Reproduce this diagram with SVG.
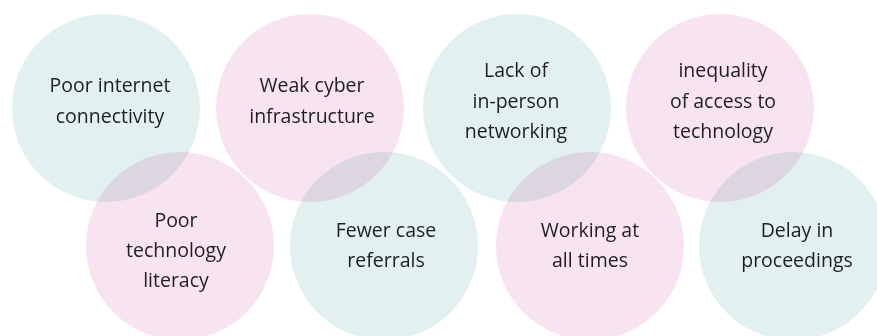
<svg xmlns="http://www.w3.org/2000/svg" width="877" height="336" viewBox="0 0 877 336">
<style>
.c{mix-blend-mode:multiply}
.t{fill:#e3f0f0}
.p{fill:#f8e4f0}
text{font-family:"Open Sans","Noto Sans",sans-serif;font-size:19.5px;fill:#1e1e1e;text-anchor:middle}
</style>
<rect width="877" height="336" fill="#ffffff"/>
<g id="n1"><circle class="c t" cx="106" cy="108" r="94"/><text x="110" y="92">Poor internet</text><text x="110" y="123">connectivity</text></g>
<g id="n2"><circle class="c p" cx="310" cy="108" r="94"/><text x="312" y="92">Weak cyber</text><text x="312" y="123">infrastructure</text></g>
<g id="n3"><circle class="c t" cx="517" cy="108" r="94"/><text x="516" y="77">Lack of</text><text x="516" y="108">in-person</text><text x="516" y="138">networking</text></g>
<g id="n4"><circle class="c p" cx="720" cy="108" r="94"/><text x="723" y="77">inequality</text><text x="723" y="108">of access to</text><text x="723" y="138">technology</text></g>
<g id="n5"><circle class="c p" cx="180" cy="246" r="94"/><text x="176" y="227">Poor</text><text x="176" y="257">technology</text><text x="176" y="287">literacy</text></g>
<g id="n6"><circle class="c t" cx="384" cy="246" r="94"/><text x="386" y="237">Fewer case</text><text x="386" y="267">referrals</text></g>
<g id="n7"><circle class="c p" cx="590" cy="246" r="94"/><text x="590" y="237">Working at</text><text x="590" y="267">all times</text></g>
<g id="n8"><circle class="c t" cx="793" cy="246" r="94"/><text x="797" y="237">Delay in</text><text x="797" y="267">proceedings</text></g>
<g id="connectors"/>
</svg>
